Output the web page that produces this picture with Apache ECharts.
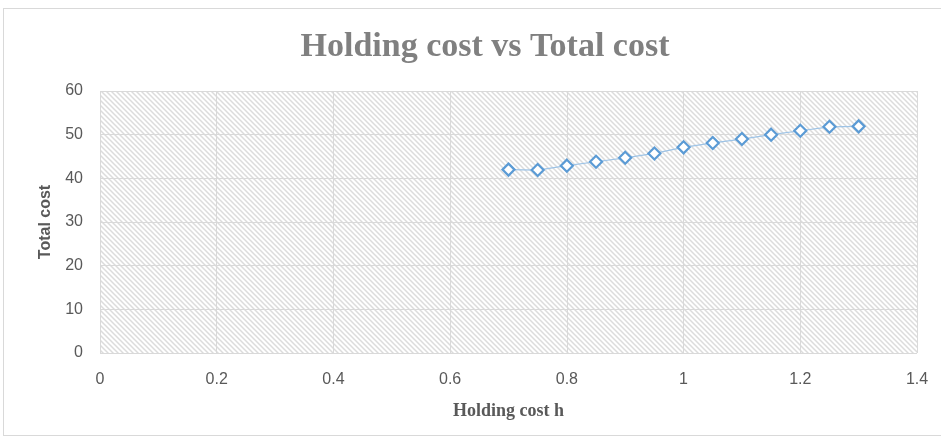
<!DOCTYPE html>
<html>
<head>
<meta charset="utf-8">
<script src="https://cdn.jsdelivr.net/npm/echarts@6/dist/echarts.min.js"></script>
<style>
html,body{margin:0;padding:0;background:#fff;}
#frame{position:absolute;left:3px;top:8px;width:945px;height:428px;border:1px solid #d9d9d9;box-sizing:border-box;}
#chart{position:absolute;left:0;top:0;width:941px;height:439px;}
</style>
</head>
<body>
<div id="frame"></div>
<div id="chart"></div>
<script>
const holdingCost = [0.7, 0.75, 0.8, 0.85, 0.9, 0.95, 1.0, 1.05, 1.1, 1.15, 1.2, 1.25, 1.3];
const totalCost = [42.0, 41.9, 42.9, 43.8, 44.7, 45.7, 47.1, 48.1, 49.0, 50.0, 50.9, 51.8, 51.9];
const xTicks = [0, 0.2, 0.4, 0.6, 0.8, 1, 1.2, 1.4];
const yTicks = [0, 10, 20, 30, 40, 50, 60];

const pts = holdingCost.map((h, i) => [h, totalCost[i]]);

// hatch pattern
const T = 5;
const pc = document.createElement('canvas');
pc.width = T; pc.height = T;
const g = pc.getContext('2d');
g.fillStyle = '#ffffff';
g.fillRect(0, 0, T, T);
g.strokeStyle = '#dcdcdc';
g.lineWidth = 1.5;
g.beginPath();
g.moveTo(-1, -1); g.lineTo(T + 1, T + 1);
g.moveTo(-1, T - 1); g.lineTo(1, T + 1);
g.moveTo(T - 1, -1); g.lineTo(T + 1, 1);
g.stroke();

const chart = echarts.init(document.getElementById('chart'), null, {renderer: 'canvas'});
chart.setOption({
  animation: false,
  title: {
    text: 'Holding cost vs Total cost',
    left: 480, top: 25, textAlign: 'center',
    textStyle: {fontFamily: 'Liberation Serif', fontWeight: 'bold', fontSize: 34, color: '#808080'}
  },
  grid: {
    left: 100, right: 24, top: 91, bottom: 86,
    show: true, borderWidth: 0,
    backgroundColor: {image: pc, repeat: 'repeat'}
  },
  xAxis: {
    type: 'value', min: 0, max: 1.4, interval: 0.2,
    name: 'Holding cost h', nameLocation: 'middle', nameGap: 49,
    nameTextStyle: {fontFamily: 'Liberation Serif', fontWeight: 'bold', fontSize: 18, color: '#595959'},
    axisLine: {show: false}, axisTick: {show: false},
    axisLabel: {color: '#595959', fontSize: 16, fontFamily: 'Liberation Sans', margin: 19,
      formatter: v => String(Math.round(v * 10) / 10)},
    splitLine: {show: true, lineStyle: {color: '#d9d9d9', width: 1}}
  },
  yAxis: {
    type: 'value', min: 0, max: 60, interval: 10,
    name: 'Total cost', nameLocation: 'middle', nameGap: 46, nameRotate: 90,
    nameTextStyle: {fontFamily: 'Liberation Sans', fontWeight: 'bold', fontSize: 16, color: '#595959'},
    axisLine: {show: false}, axisTick: {show: false},
    axisLabel: {color: '#595959', fontSize: 16, fontFamily: 'Liberation Sans', margin: 17},
    splitLine: {show: true, lineStyle: {color: '#d9d9d9', width: 1}}
  },
  series: [{
    type: 'line',
    data: pts,
    symbol: 'diamond',
    symbolSize: 12,
    showAllSymbol: true,
    lineStyle: {color: '#9dc3e6', width: 1.2},
    itemStyle: {color: '#ffffff', borderColor: '#5b9bd5', borderWidth: 2.2}
  }]
});
</script>
</body>
</html>
